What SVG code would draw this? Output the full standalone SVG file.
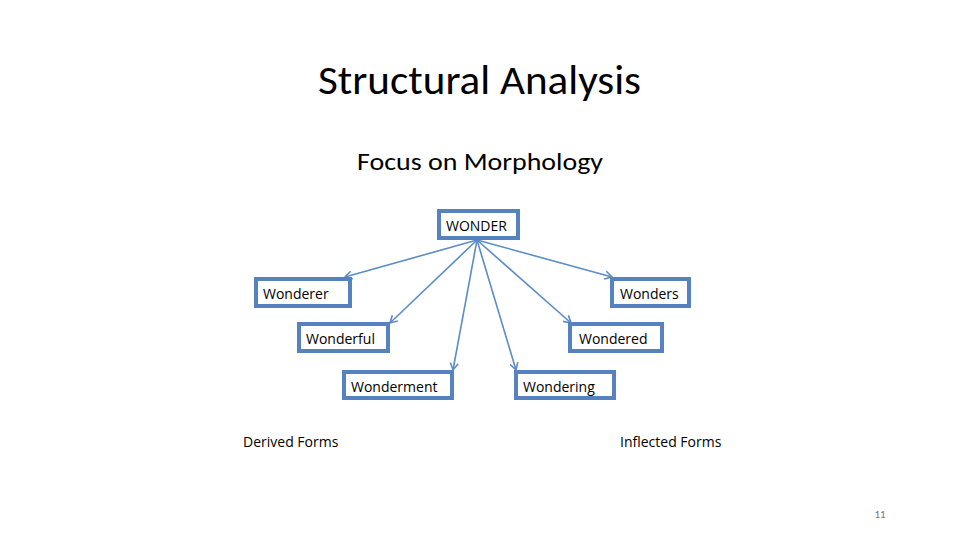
<svg xmlns="http://www.w3.org/2000/svg" width="960" height="540" viewBox="0 0 960 540">
<style>
.box{fill:#fff;stroke:#5683bf;stroke-width:4}
.t{font-family:"Open Sans","Liberation Sans",sans-serif;font-size:14px;fill:#000}
.c{stroke:#5b8cc6;stroke-width:1.6;fill:none;marker-end:url(#a)}
</style>
<defs><marker id="a" markerWidth="10" markerHeight="10" refX="8" refY="5" orient="auto" markerUnits="userSpaceOnUse"><path d="M1,1 L8,5 L1,9" fill="none" stroke="#5b8cc6" stroke-width="1.6"/></marker></defs>
<rect width="960" height="540" fill="#fff"/>
<text x="318" y="94" textLength="323" lengthAdjust="spacingAndGlyphs" font-family="Carlito,'Open Sans','Liberation Sans',sans-serif" font-weight="300" font-size="41" fill="#000">Structural Analysis</text>
<text x="357" y="170" textLength="246" lengthAdjust="spacingAndGlyphs" font-family="Carlito,'Open Sans','Liberation Sans',sans-serif" font-size="24" fill="#000">Focus on Morphology</text>
<g id="connectors">
<line class="c" x1="477" y1="240" x2="345" y2="277"/>
<line class="c" x1="477" y1="240" x2="390" y2="323"/>
<line class="c" x1="477" y1="240" x2="453" y2="370"/>
<line class="c" x1="477" y1="240" x2="516" y2="370"/>
<line class="c" x1="477" y1="240" x2="571" y2="323"/>
<line class="c" x1="477" y1="240" x2="612" y2="277"/>
</g>
<g id="wonder"><rect class="box" x="439" y="211" width="79" height="27"/><text class="t" x="446" y="231">WONDER</text></g>
<g id="wonderer"><rect class="box" x="256" y="279" width="94" height="27"/><text class="t" x="263" y="299">Wonderer</text></g>
<g id="wonders"><rect class="box" x="612" y="279" width="77" height="27"/><text class="t" x="620" y="299">Wonders</text></g>
<g id="wonderful"><rect class="box" x="299" y="324" width="89" height="27"/><text class="t" x="306" y="344">Wonderful</text></g>
<g id="wondered"><rect class="box" x="570" y="324" width="92" height="27"/><text class="t" x="579" y="344">Wondered</text></g>
<g id="wonderment"><rect class="box" x="344" y="372" width="108" height="26"/><text class="t" x="351" y="392">Wonderment</text></g>
<g id="wondering"><rect class="box" x="516" y="372" width="98" height="26"/><text class="t" x="523" y="392">Wondering</text></g>
<text class="t" x="243" y="447">Derived Forms</text>
<text class="t" x="620" y="447">Inflected Forms</text>
<text x="880" y="518" text-anchor="middle" font-family="Carlito,'Open Sans','Liberation Sans',sans-serif" font-size="11" fill="#777">11</text>
</svg>
